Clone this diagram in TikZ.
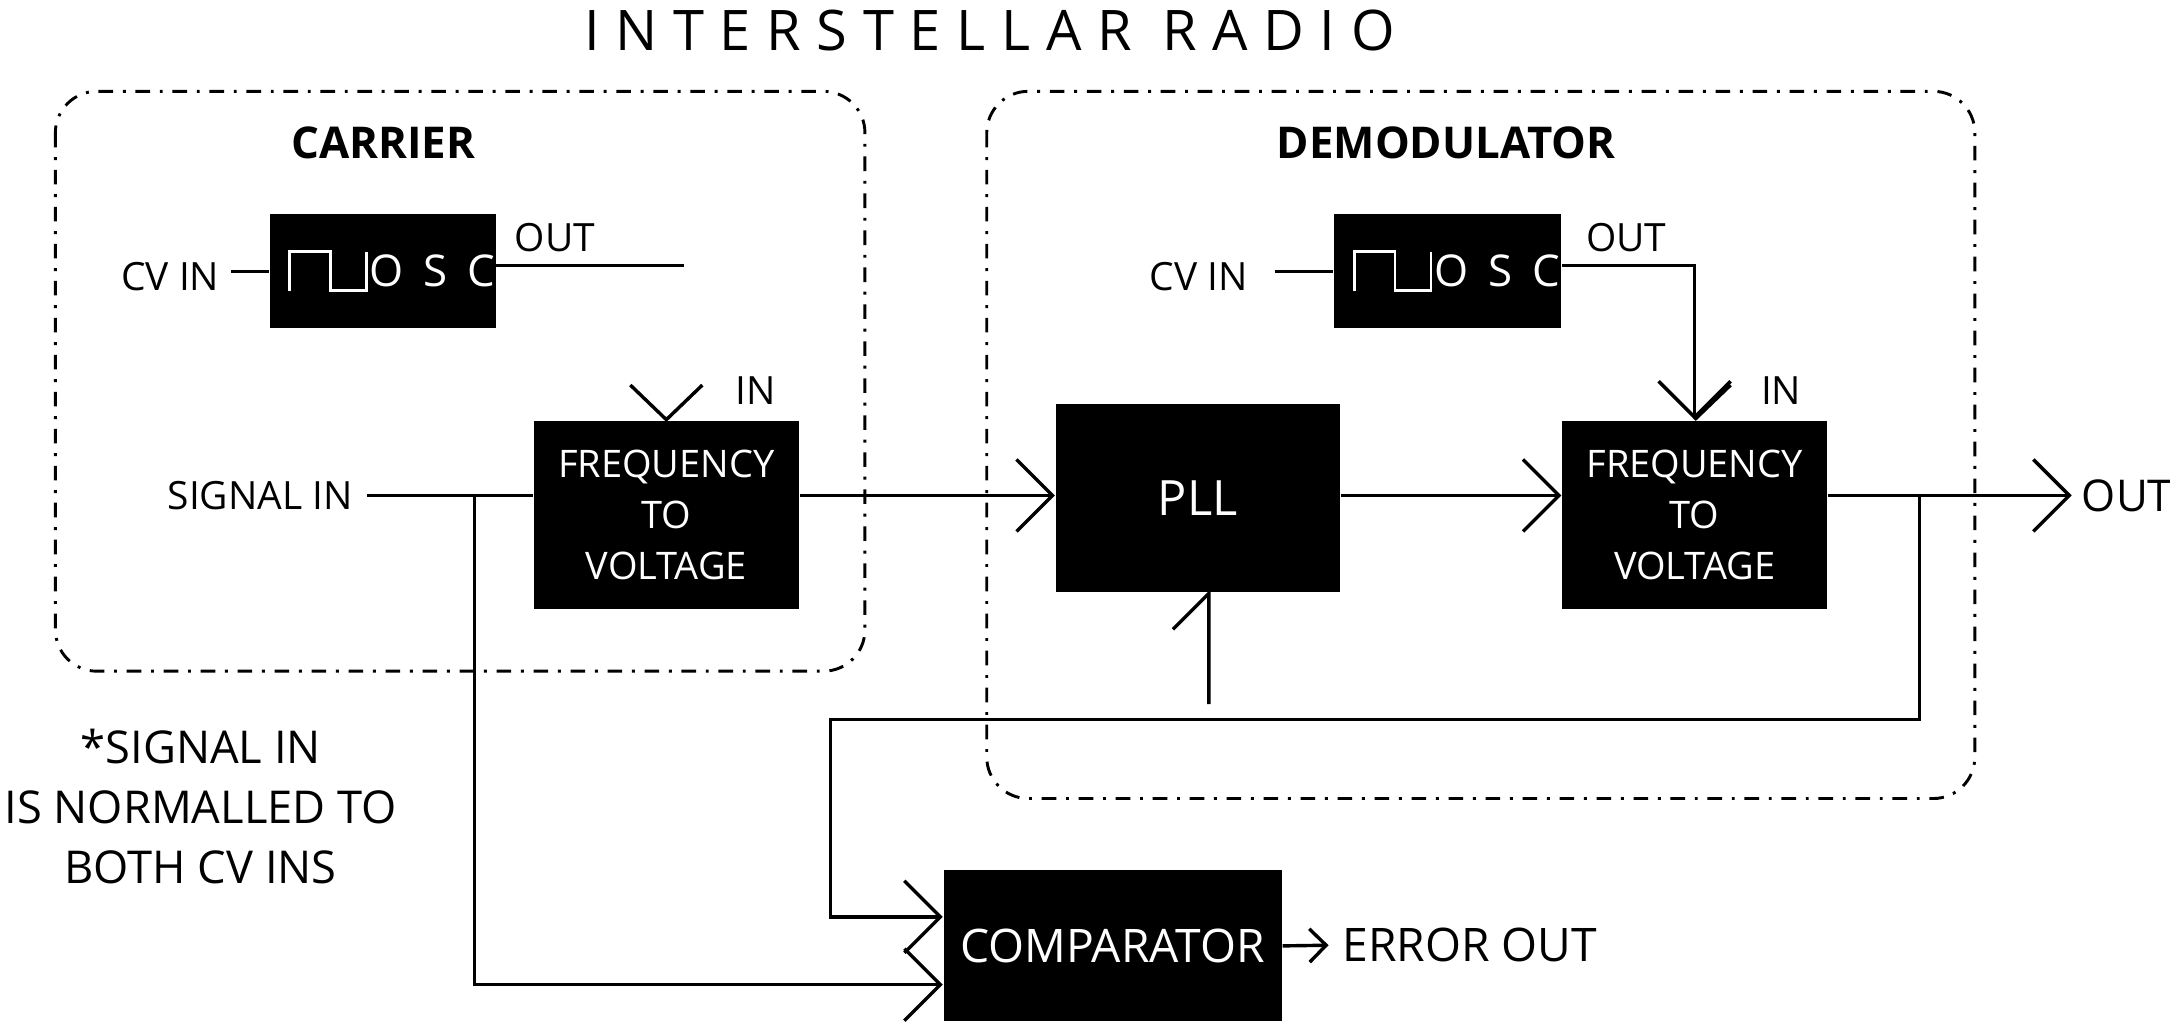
\documentclass[tikz,border=0pt]{standalone}
\usepackage{fontspec}
\setmainfont{Open Sans}
\usetikzlibrary{arrows.meta}
\tikzset{
  wire/.style={line width=0.7pt},
  block/.style={fill=black,text=white,inner sep=0pt,align=center,font=\fontsize{7.8}{10.5}\selectfont},
  group/.style={line width=0.6pt,dash dot,rounded corners=0.3cm},
  lbl/.style={inner sep=0pt,font=\fontsize{8}{10}\selectfont},
  barb/.style={-{Straight Barb[length=0.26cm,width=0.52cm,line width=0.7pt]}},
  wave/.style={draw=white,line width=0.6pt}
}
\begin{document}
\begin{tikzpicture}[x=0.01cm,y=-0.01cm]
\useasboundingbox (0,0) rectangle (1568,740);
% title and groups
\node[inner sep=0pt,font=\fontsize{11.5}{14}\selectfont\addfontfeature{LetterSpace=28}] (title) at (715,22) {INTERSTELLAR RADIO};
\draw[group] (40,66) rectangle (625,485);
\draw[group] (713,66) rectangle (1427,577);
\node[lbl,font=\fontsize{9}{11}\bfseries] (carrier) at (277,103) {CARRIER};
\node[lbl,font=\fontsize{9}{11}\bfseries] (demod) at (1045,103) {DEMODULATOR};
% blocks
\node[block,minimum width=1.63cm,minimum height=0.82cm] (osca) at (276.5,196) {};
\node[block,minimum width=1.64cm,minimum height=0.82cm] (oscb) at (1046,196) {};
\node[block,minimum width=1.91cm,minimum height=1.36cm] (fva) at (481.5,372) {FREQUENCY\\TO\\VOLTAGE};
\node[block,minimum width=2.05cm,minimum height=1.36cm,font=\fontsize{10}{12}\selectfont] (pll) at (865.5,360) {PLL};
\node[block,minimum width=1.91cm,minimum height=1.36cm] (fvb) at (1224.5,372) {FREQUENCY\\TO\\VOLTAGE};
\node[block,minimum width=2.44cm,minimum height=1.09cm,font=\fontsize{9.5}{12}\selectfont] (comp) at (804,683.5) {COMPARATOR};
% oscillator symbols
\foreach \o in {osca,oscb} {
  \draw[wave] ([shift={(-67,14)}]\o.center) |- ++(29,-28) |- ++(26,28) -- ++(0,-28);
  \node[text=white,inner sep=0pt,font=\fontsize{9}{11}\selectfont\addfontfeature{LetterSpace=45}] at ([shift={(36,0)}]\o.center) {OSC};
}
% labels
\node[lbl] (cva) at (123,200) {CV IN};
\node[lbl] (cvb) at (866,200) {CV IN};
\node[lbl] (outa) at (401,172) {OUT};
\node[lbl] (outb) at (1175,172) {OUT};
\node[lbl] (ina) at (546,282) {IN};
\node[lbl] (inb) at (1287,282) {IN};
\node[lbl] (sig) at (188,358) {SIGNAL IN};
\node[lbl,font=\fontsize{9}{12}\selectfont] (out) at (1537,358) {OUT};
\node[lbl,font=\fontsize{9.5}{12}\selectfont] (err) at (1062,683) {ERROR OUT};
\node[lbl,align=center,font=\fontsize{9.3}{12.3}\selectfont] (note) at (145,583) {*SIGNAL IN\\IS NORMALLED TO\\BOTH CV INS};
\coordinate (enda) at (494,192);
\coordinate (sj) at (343,358);
\coordinate (oj) at (1387,358);
\coordinate (outtip) at (1497,358);
% connectors
\draw[wire] (167,196) -- (osca.west |- 0,196);
\draw[wire] (921,196) -- (oscb.west |- 0,196);
\draw[wire] (osca.east |- enda) -- (enda);
\draw[wire,barb] (oscb.east |- 0,192) -| (fvb.north);
\draw[wire] ([shift={(-26,-25)}]fva.north) -- (fva.north) -- ++(26,-25);
\draw[wire] (fvb.north) ++(26,-25) -- (fvb.north);
\draw[wire] (265,358) -- (fva.west |- sj);
\draw[wire,barb] (fva.east |- sj) -- (pll.west |- sj);
\draw[wire,barb] (pll.east |- sj) -- (fvb.west |- sj);
\draw[wire,barb] (fvb.east |- sj) -- (outtip);
\draw[wire,barb] (oj) |- (600,520) |- ([shift={(0,-21)}]comp.west);
\draw[wire] (pll.south) ++(8,80) -- ++(0,-80) -- ++(-26,26);
\draw[wire,barb] (sj) |- ([shift={(0,28)}]comp.west);
\draw[wire,-{Straight Barb[length=0.12cm,width=0.24cm,line width=0.7pt]}] (comp.east) -- (960,683);
\end{tikzpicture}
\end{document}
